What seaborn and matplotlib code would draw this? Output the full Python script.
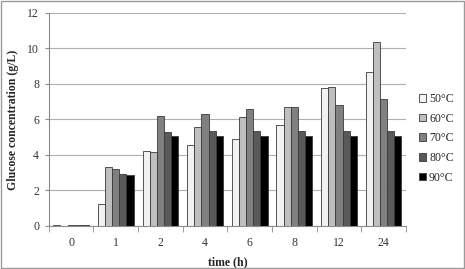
import numpy as np
import pandas as pd
import matplotlib
matplotlib.use('Agg')
import matplotlib.pyplot as plt
from matplotlib.patches import Rectangle
import seaborn as sns

# Glucose concentration (g/L) per hydrolysis time and temperature
times = ['0', '1', '2', '4', '6', '8', '12', '24']
temps = ['50°C', '60°C', '70°C', '80°C', '90°C']
g50 = [0.03, 1.25, 4.20, 4.56, 4.88, 5.67, 7.76, 8.68]
g60 = [np.nan, 3.30, 4.15, 5.60, 6.12, 6.69, 7.82, 10.36]
g70 = [0.03, 3.22, 6.20, 6.29, 6.59, 6.69, 6.80, 7.16]
g80 = [0.03, 2.95, 5.28, 5.33, 5.33, 5.33, 5.33, 5.33]
g90 = [0.03, 2.88, 5.05, 5.07, 5.07, 5.07, 5.07, 5.07]
colors = ['#f2f2f2', '#bfbfbf', '#808080', '#595959', '#000000']

rows = []
for temp, vals in zip(temps, [g50, g60, g70, g80, g90]):
    for t, v in zip(times, vals):
        rows.append({'time': t, 'temp': temp, 'glucose': v})
df = pd.DataFrame(rows)

sns.set_style('white')
plt.rcParams['font.family'] = ['Liberation Serif', 'DejaVu Serif']

fig = plt.figure(figsize=(4.65, 2.69), dpi=100)
ax = fig.add_axes([0.105, 0.160, 0.768, 0.792])

sns.barplot(data=df, x='time', y='glucose', hue='temp', order=times,
            hue_order=temps, palette=colors, width=0.8, ax=ax,
            edgecolor='#3a3a3a', linewidth=0.6, errorbar=None, saturation=1)

ax.set_ylim(0, 12)
ax.set_yticks(range(0, 13, 2))
ax.set_xlim(-0.5, len(times) - 0.5)
ax.yaxis.grid(True, color='#b0b0b0', linewidth=0.8)
ax.set_axisbelow(True)
for s in ['top', 'right']:
    ax.spines[s].set_visible(False)
for s in ['left', 'bottom']:
    ax.spines[s].set_color('#8c8c8c')
    ax.spines[s].set_linewidth(0.8)

ax.tick_params(axis='y', labelsize=8.5, length=3, color='#8c8c8c', pad=4,
               left=True, labelcolor='#333333')
ax.tick_params(axis='x', which='major', labelsize=8.5, length=0, pad=8,
               labelcolor='#333333')
ax.set_xticks(np.arange(-0.5, len(times), 1), minor=True)
ax.tick_params(axis='x', which='minor', length=4, color='#8c8c8c', bottom=True)

ax.set_xlabel('time (h)', fontsize=8.5, fontweight='bold', labelpad=5)
ax.set_ylabel('Glucose concentration (g/L)', fontsize=8.5, fontweight='bold',
              labelpad=6)

leg = ax.legend(loc='upper left', bbox_to_anchor=(419 / 465, 1 - 93 / 269),
                bbox_transform=fig.transFigure, frameon=False, fontsize=8.5,
                handlelength=0.6, handleheight=0.6, handletextpad=0.25,
                labelspacing=0.65, borderaxespad=0, borderpad=0)
for h in leg.legend_handles:
    h.set_edgecolor('#3a3a3a')
    h.set_linewidth(0.6)

fig.patches.append(Rectangle((0.002, 0.002), 0.995, 0.995, transform=fig.transFigure,
                             fill=False, edgecolor='#9a9a9a', linewidth=1))

fig.savefig('out.png', dpi=100)
